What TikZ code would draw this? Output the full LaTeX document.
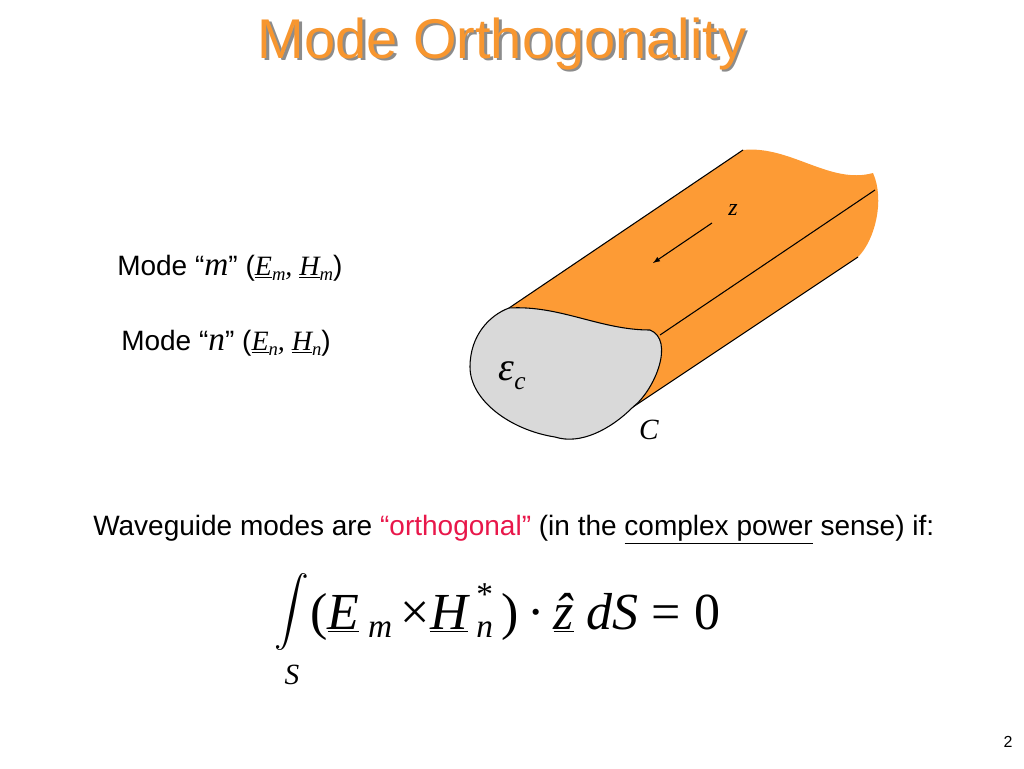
\documentclass[tikz,border=0pt]{standalone}
\usepackage{fontspec}
\usepackage{graphicx}
\setmainfont{Liberation Sans}
\newfontfamily\tnr{Liberation Serif}
\definecolor{wg}{HTML}{FD9B35}
\definecolor{ttl}{HTML}{F7962F}
\definecolor{pk}{HTML}{E8174A}
\begin{document}
\begin{tikzpicture}[x=0.75pt,y=-0.75pt,
  txt/.style={inner sep=0pt,anchor=west,font=\fontsize{21}{24}\selectfont},
  mth/.style={inner sep=0pt,font=\tnr\itshape\fontsize{18}{20}\selectfont}]
\useasboundingbox (0,0) rectangle (1024,768);
% title
\node[text=ttl] (title) at (502,45) {\fontsize{42}{46}\selectfont\rlap{\kern2pt\raisebox{-2pt}{\textcolor{black!45}{Mode Orthogonality}}}Mode Orthogonality};
% waveguide body
\fill[wg] (470,367) .. controls (475,330) and (490,315) .. (509,308) -- (743,150)
  .. controls (790,145) and (830,185) .. (873,173) .. controls (885,200) and (875,240) .. (858,257)
  -- (633,407) -- cycle;
\draw[thick] (509,308) -- (743,150);
\draw[thick] (660,335) -- (875,190);
\draw[thick] (633,407) -- (858,257);
% face
\draw[thick,fill=black!15] (509,308) .. controls (560,305) and (600,330) .. (650,330)
  .. controls (675,340) and (655,390) .. (633,407)
  .. controls (610,430) and (580,445) .. (555,437)
  .. controls (510,430) and (470,400) .. (470,367)
  .. controls (470,335) and (490,315) .. (509,308);
\coordinate (a1) at (712,223); \coordinate (a2) at (653,263);
\draw[thick,-latex] (a1) -- (a2);
\node[mth] (z) at (733,210) {z};
\node[mth,font=\tnr\itshape\fontsize{30}{30}\selectfont] (eps) at (512,376) {ε\raisebox{-0.5ex}{\fontsize{19}{19}\selectfont c}};
\node[mth,font=\tnr\itshape\fontsize{22}{22}\selectfont] (C) at (649,430) {C};
% mode labels
\node[txt] (m) at (117,268) {Mode “{\tnr\itshape\fontsize{25}{25}\selectfont m}” ({\tnr\itshape\underline{E}\raisebox{-0.4ex}{\fontsize{14}{14}\selectfont m}, \underline{H}\raisebox{-0.4ex}{\fontsize{14}{14}\selectfont m}})};
\node[txt] (n) at (121,343) {Mode “{\tnr\itshape\fontsize{25}{25}\selectfont n}” ({\tnr\itshape\underline{E}\raisebox{-0.4ex}{\fontsize{14}{14}\selectfont n}, \underline{H}\raisebox{-0.4ex}{\fontsize{14}{14}\selectfont n}})};
\node[txt] (w) at (93,530) {Waveguide modes are \textcolor{pk}{“orthogonal”} (in the \underline{complex power} sense) if:};
% equation
\node[inner sep=0pt] (int) at (292,612) {\scalebox{2.6}{$\displaystyle\int$}};
\node[inner sep=0pt,font=\tnr\itshape\fontsize{22}{22}\selectfont] (S) at (292,675) {S};
\node[inner sep=0pt,anchor=west,font=\tnr\fontsize{39}{39}\selectfont] (eq) at (310,612)
 {(\textit{\underline{E}}\,\raisebox{-0.35ex}{\fontsize{25}{25}\selectfont\itshape m}\,×\textit{\underline{H}}\,\rlap{\raisebox{1.0ex}{\fontsize{25}{25}\selectfont *}}\raisebox{-0.35ex}{\fontsize{25}{25}\selectfont\itshape n}\,)\,·\,\textit{\underline{\^z}} \textit{dS} = 0};
\node[font=\fontsize{12}{12}\selectfont] (pg) at (1008,742) {2};
\end{tikzpicture}
\end{document}
